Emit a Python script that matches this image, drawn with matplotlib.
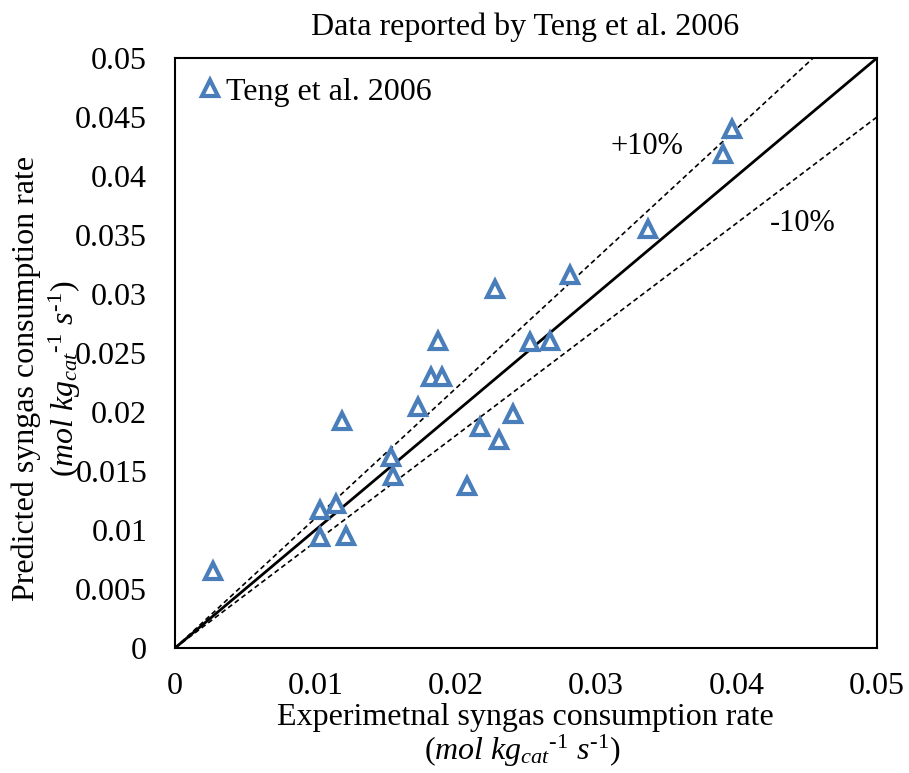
import numpy as np
import matplotlib.pyplot as plt

plt.rcParams['font.family'] = ['Liberation Serif', 'DejaVu Serif']
plt.rcParams['mathtext.fontset'] = 'custom'
plt.rcParams['mathtext.rm'] = 'Liberation Serif'
plt.rcParams['mathtext.it'] = 'Liberation Serif:italic'

# experimental vs predicted syngas consumption rate (mol kg_cat^-1 s^-1)
exp_rate = [0.0027, 0.0103, 0.0103, 0.0115, 0.0122, 0.0119, 0.0154, 0.0155,
            0.0173, 0.0182, 0.0190, 0.0187, 0.0208, 0.0217, 0.0231, 0.0241,
            0.0228, 0.0253, 0.0267, 0.0281, 0.0337, 0.0390, 0.0397]
pred_rate = [0.0065, 0.0094, 0.0117, 0.0122, 0.0095, 0.0192, 0.0162, 0.0146,
             0.0204, 0.0230, 0.0230, 0.0260, 0.0137, 0.0187, 0.0176, 0.0198,
             0.0304, 0.0259, 0.0260, 0.0316, 0.0355, 0.0419, 0.0440]

lims = [0, 0.05]
yticks = [0, 0.005, 0.01, 0.015, 0.02, 0.025, 0.03, 0.035, 0.04, 0.045, 0.05]
xticks = [0, 0.01, 0.02, 0.03, 0.04, 0.05]

fs = 23

fig = plt.figure(figsize=(9.09, 7.73), dpi=100)
ax = fig.add_axes([0.1925, 0.1617, 0.7723, 0.7633])

# parity line and +/-10% bands
xx = np.array(lims)
ax.plot(xx, xx, color='black', lw=2)
ax.plot(xx, 1.1 * xx, color='black', lw=1.2, ls=(0, (3, 2)))
ax.plot(xx, 0.9 * xx, color='black', lw=1.2, ls=(0, (3, 2)))

ax.plot(exp_rate, pred_rate, linestyle='none', marker='^', markersize=12,
        markerfacecolor='white', markeredgecolor='#4A7EBB', markeredgewidth=3,
        label='Teng et al. 2006', zorder=3)

ax.text(0.0336, 0.0425, '+10%', fontsize=fs - 1, ha='center', va='center')
ax.text(0.0447, 0.036, '-10%', fontsize=fs - 1, ha='center', va='center')

ax.set_xlim(lims)
ax.set_ylim(lims)
ax.set_xticks(xticks)
ax.set_xticklabels(['0', '0.01', '0.02', '0.03', '0.04', '0.05'])
ax.set_yticks(yticks)
ax.set_yticklabels(['0', '0.005', '0.01', '0.015', '0.02', '0.025', '0.03',
                    '0.035', '0.04', '0.045', '0.05'])
ax.tick_params(length=0, labelsize=fs)
ax.tick_params(axis='x', pad=17)
ax.tick_params(axis='y', pad=20)
for s in ax.spines.values():
    s.set_linewidth(1.5)

fig.text(0.578, 0.965, 'Data reported by Teng et al. 2006', fontsize=fs,
         ha='center', va='center')

unit = r'(${mol\ kg_{cat}}{}^{\text{-}1}\ s^{\text{-}1}$)'
fig.text(0.578, 0.072, 'Experimetnal syngas consumption rate', fontsize=fs,
         ha='center', va='center')
fig.text(0.574, 0.029, unit, fontsize=fs, ha='center', va='center')
fig.text(0.029, 0.51, 'Predicted syngas consumption rate', rotation=90,
         fontsize=fs, ha='center', va='center')
fig.text(0.071, 0.51, unit, rotation=90, fontsize=fs, ha='center', va='center')

ax.legend(loc='upper left', frameon=False, fontsize=fs, handletextpad=0.0,
          borderaxespad=0.2, handlelength=1.0)

fig.savefig('out.png', dpi=100)
